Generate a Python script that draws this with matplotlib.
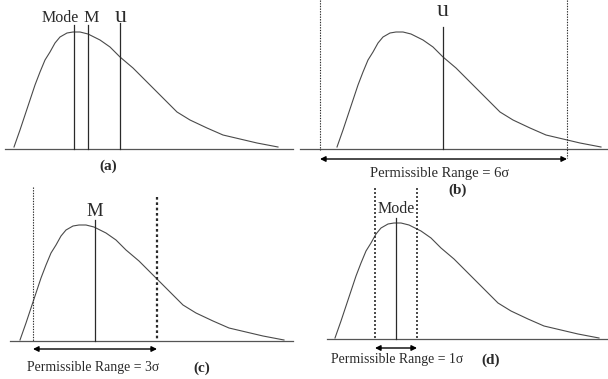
import matplotlib
matplotlib.use("Agg")
from matplotlib import pyplot as plt

# curve points (pixel coords, y grows downward)
curve_a_x = [14, 20, 25, 30, 35, 40, 45, 50, 55, 60, 67, 73, 80, 88, 100, 110, 120, 133,
             150, 167, 177, 190, 207, 223, 240, 257, 278]
curve_a_y = [147, 130, 115, 100, 85, 72, 60, 52, 43, 37, 33, 32, 32, 34, 40, 47, 57, 68,
             85, 102, 112, 120, 128, 135, 139, 143, 147]
curve_b_x = [337, 343, 348, 353, 358, 363, 368, 373, 378, 383, 390, 396, 403, 411, 423, 433, 443, 456,
             473, 490, 500, 513, 530, 546, 563, 580, 601]
curve_b_y = [147, 130, 115, 100, 85, 72, 60, 52, 43, 37, 33, 32, 32, 34, 40, 47, 57, 68,
             85, 102, 112, 120, 128, 135, 139, 143, 147]
curve_c_x = [20, 26, 31, 36, 41, 46, 51, 56, 61, 66, 73, 79, 86, 94, 106, 116, 126, 139,
             156, 173, 183, 196, 213, 229, 246, 263, 284]
curve_c_y = [340, 323, 308, 293, 278, 265, 253, 245, 236, 230, 226, 225, 225, 227, 233, 240, 250, 261,
             278, 295, 305, 313, 321, 328, 332, 336, 340]
curve_d_x = [335, 341, 346, 351, 356, 361, 366, 371, 376, 381, 388, 394, 401, 409, 421, 431, 441, 454,
             471, 488, 498, 511, 528, 544, 561, 578, 599]
curve_d_y = [338, 321, 306, 291, 276, 263, 251, 243, 234, 228, 224, 223, 223, 225, 231, 238, 248, 259,
             276, 293, 303, 311, 319, 326, 330, 334, 338]

# baselines: (x0, x1, y)
baselines = [(5, 293, 149), (300, 608, 149), (10, 293, 341), (327, 608, 339)]

# solid marker lines: (x, y_top, y_bottom)
markers = [(74, 25, 149), (88, 25, 149), (120, 23, 149),
           (443, 27, 149), (95, 220, 341), (396, 218, 339)]
marker_labels = ['Mode', 'M', 'u', 'u', 'M', 'Mode']

# dotted limit lines: (x, y_top, y_bottom, width)
limits = [(320, 0, 150, 0.8), (567, 0, 158, 0.8),
          (33, 187, 341, 0.8), (157, 197, 341, 1.6),
          (375, 188, 339, 1.2), (417, 188, 339, 1.2)]

# ranges: (x0, x1, y)
ranges = [(320, 567, 159), (33, 157, 349), (375, 417, 348)]
range_labels = ['Permissible Range = 6σ', 'Permissible Range = 3σ', 'Permissible Range = 1σ']

fig = plt.figure(figsize=(6.08, 3.79), dpi=100)
ax = fig.add_axes([0, 0, 1, 1])
ax.set_xlim(0, 608)
ax.set_ylim(379, 0)
ax.axis('off')

ink = '#2a2a2a'
serif = 'Liberation Serif'

for x0, x1, y in baselines:
    ax.plot([x0, x1], [y, y], color='#555555', lw=0.9)

for xs, ys in [(curve_a_x, curve_a_y), (curve_b_x, curve_b_y),
               (curve_c_x, curve_c_y), (curve_d_x, curve_d_y)]:
    ax.plot(xs, ys, color='#4a4a4a', lw=0.8, solid_joinstyle='round')

for x, y0, y1 in markers:
    ax.plot([x, x], [y0, y1], color=ink, lw=0.9)

for x, y0, y1, w in limits:
    ax.plot([x, x], [y0, y1], color=ink, lw=w, ls=(0, (1.2, 1.2)))

for x0, x1, y in ranges:
    ax.annotate('', xy=(x0, y), xytext=(x1, y),
                arrowprops=dict(arrowstyle='<|-|>', color='black', lw=1.0,
                                mutation_scale=8, shrinkA=0, shrinkB=0))

# marker labels
ax.text(60, 18, marker_labels[0], family=serif, fontsize=11.5, color=ink, ha='center', va='center')
ax.text(91, 18, marker_labels[1], family=serif, fontsize=12.5, color=ink, ha='center', va='center')
ax.text(121, 17, marker_labels[2], family=serif, fontsize=17, color=ink, ha='center', va='center')
ax.text(443, 11, marker_labels[3], family=serif, fontsize=17, color=ink, ha='center', va='center')
ax.text(95, 211, marker_labels[4], family=serif, fontsize=13.5, color=ink, ha='center', va='center')
ax.text(396, 209, marker_labels[5], family=serif, fontsize=11.5, color=ink, ha='center', va='center')

# range labels
ax.text(440, 173, range_labels[0], family=serif, fontsize=10.5, color=ink, ha='center', va='center')
ax.text(93, 368, range_labels[1], family=serif, fontsize=9.9, color=ink, ha='center', va='center')
ax.text(397, 360, range_labels[2], family=serif, fontsize=9.9, color=ink, ha='center', va='center')

# panel tags
for tag, x, y in [('(a)', 108, 166), ('(b)', 458, 190), ('(c)', 202, 368), ('(d)', 491, 360)]:
    ax.text(x, y, tag, family=serif, fontsize=11, fontweight='bold', color=ink,
            ha='center', va='center')

fig.savefig('out.png', dpi=100)
